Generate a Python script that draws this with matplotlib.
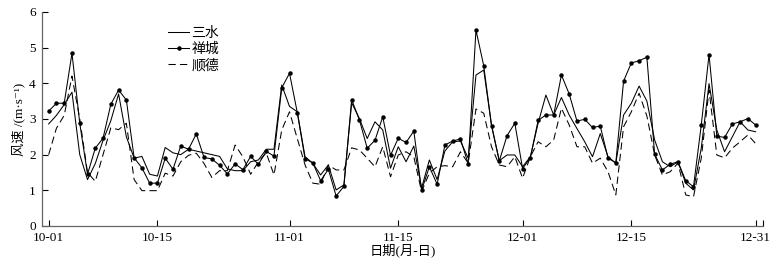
import numpy as np
import matplotlib.pyplot as plt

plt.rcParams['font.family'] = ['Liberation Serif', 'Noto Sans CJK SC', 'DejaVu Serif']

# 日序号：0 = 10-01 ... 91 = 12-31
tick_days = [0, 14, 31, 45, 61, 75, 91]
tick_labels = ['10-01', '10-15', '11-01', '11-15', '12-01', '12-15', '12-31']

sanshui = [2.86, 3.1, 3.4, 3.75, 2.0, 1.3, 1.75, 2.4, 2.95, 3.7, 2.5, 1.9, 1.95, 1.45, 1.4, 2.2,
           2.05, 2.0, 2.15, 2.1, 2.05, 2.0, 1.95, 1.6, 1.55, 1.55, 1.8, 1.85, 2.15, 2.15, 3.95,
           3.35, 3.2, 1.94, 1.76, 1.43, 1.71, 1.01, 1.15, 3.45, 3.01, 2.45, 2.92, 2.69, 1.62, 2.22,
           1.80, 2.24, 1.06, 1.85, 1.30, 2.10, 2.36, 2.38, 1.90, 4.23, 4.37, 2.83, 1.83, 1.99, 1.99, 1.66,
           1.94, 2.88, 3.67, 3.11, 3.60, 3.11, 2.73, 2.36, 1.94, 2.59, 1.94, 1.76, 3.11, 3.44, 3.92, 3.5,
           2.41, 1.80, 1.66, 1.80, 1.20, 1.01, 2.18, 3.99, 2.69, 2.08, 2.50, 2.92, 2.69, 2.64]

chancheng = [3.22, 3.44, 3.44, 4.84, 2.88, 1.45, 2.18, 2.46, 3.41, 3.81, 3.53, 1.91, 1.63, 1.20, 1.20, 1.90,
             1.59, 2.24, 2.15, 2.58, 1.92, 1.88, 1.70, 1.46, 1.74, 1.58, 1.95, 1.73, 2.09, 1.96, 3.87,
             4.28, 3.18, 1.88, 1.77, 1.27, 1.59, 0.84, 1.11, 3.54, 2.97, 2.18, 2.40, 3.06, 1.98, 2.46,
             2.34, 2.66, 1.00, 1.66, 1.17, 2.27, 2.38, 2.44, 1.74, 5.49, 4.49, 2.81, 1.82, 2.53, 2.88, 1.61,
             1.91, 2.96, 3.11, 3.11, 4.23, 3.70, 2.94, 2.99, 2.76, 2.80, 1.90, 1.77, 4.06, 4.57, 4.63, 4.73,
             2.01, 1.57, 1.73, 1.80, 1.27, 1.10, 2.83, 4.80, 2.52, 2.48, 2.86, 2.92, 3.01, 2.83]

shunde = [2.0, 2.74, 3.1, 4.2, 3.0, 1.5, 1.25, 2.0, 2.75, 2.7, 2.88, 1.3, 0.99, 0.99, 0.99, 1.48,
          1.4, 1.8, 1.98, 2.04, 1.75, 1.36, 1.55, 1.55, 2.27, 1.94, 1.45, 1.8, 2.05, 1.43, 2.69,
          3.2, 2.45, 1.71, 1.20, 1.17, 1.71, 1.57, 1.57, 2.19, 2.13, 1.90, 1.66, 2.22, 1.38, 1.99,
          2.08, 1.94, 0.96, 1.48, 1.66, 1.69, 1.66, 2.08, 1.76, 3.28, 3.16, 2.22, 1.71, 1.66, 1.94, 1.34,
          1.94, 2.36, 2.22, 2.41, 3.30, 2.83, 2.22, 2.22, 1.76, 1.90, 1.52, 0.87, 2.78, 3.20, 3.72, 3.08,
          1.99, 1.43, 1.52, 1.76, 0.87, 0.82, 1.90, 3.81, 1.99, 1.91, 2.18, 2.36, 2.55, 2.31]

days = np.arange(len(sanshui))

fig = plt.figure(figsize=(7.79, 2.64), dpi=100)
ax = fig.add_axes([0.054, 0.144, 0.926, 0.811])

ax.plot(days, sanshui, color='black', lw=0.75, label='三水')
ax.plot(days, chancheng, color='black', lw=0.75, marker='o', ms=2.2, label='禅城')
ax.plot(days, shunde, color='black', lw=0.75, ls=(0, (7, 4)), label='顺德')

ax.set_xlim(-0.85, 92)
ax.set_ylim(0, 6)
ax.set_xticks(tick_days)
ax.set_xticklabels(tick_labels)
ax.set_xticks([92], minor=True)
ax.set_yticks(range(7))
ax.tick_params(direction='in', length=4, width=0.8, labelsize=9.5, colors='black')
ax.tick_params(axis='y', pad=4.5)
ax.tick_params(axis='x', pad=4)
ax.tick_params(which='minor', direction='in', length=4, width=0.8)
ax.spines['top'].set_visible(False)
ax.spines['right'].set_visible(False)
for s in ['left', 'bottom']:
    ax.spines[s].set_color('#666666')
    ax.spines[s].set_linewidth(0.9)

ax.set_xlabel('日期(月-日)', fontsize=9.5, labelpad=0)
ax.set_ylabel('风速 /(m·s⁻¹)', fontsize=9.5, labelpad=3)

ax.legend(loc='upper left', bbox_to_anchor=(0.175, 0.93), frameon=False, fontsize=10,
          handlelength=1.5, handletextpad=0.15, labelspacing=0.2, borderpad=0,
          borderaxespad=0)

fig.savefig('out.png', dpi=100)
